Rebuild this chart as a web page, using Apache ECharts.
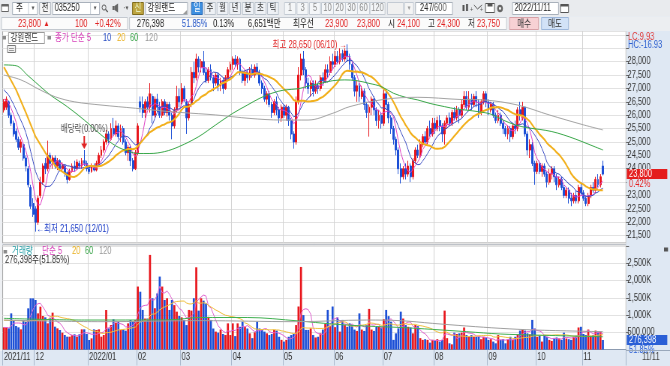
<!DOCTYPE html>
<html><head><meta charset="utf-8">
<script src="https://cdn.jsdelivr.net/npm/echarts@6/dist/echarts.min.js"></script>
<style>
html,body{margin:0;padding:0;overflow:hidden;background:#fff;width:670px;height:366px}
#wrap{width:670px;height:366px;overflow:hidden;position:relative}
#c{width:893px;height:366px;transform:scaleX(0.750280);transform-origin:0 0}
</style></head><body><div id="wrap"><div id="c"></div></div>
<script>
// ---------------- data ----------------
const holidays = ['2021-12-31','2022-01-31','2022-02-01','2022-02-02','2022-03-01','2022-03-09','2022-05-05','2022-06-01','2022-06-06','2022-08-15','2022-09-09','2022-09-12','2022-10-03','2022-10-10'];
// [open, close, low, high]
const ohlc = [
// 2021-11
[26200,26500,26100,26600],[26300,26600,26200,26700],[26500,26000,25900,26550],[26000,25700,25600,26100],[25700,25300,25200,25800],[25400,25100,25000,25500],[25100,24800,24700,25200],[24800,25000,24600,25100],[24900,24400,24300,25000],[24400,24100,23900,24500],[24000,23400,23300,24100],[23300,22600,22500,23400],[22700,22300,22200,22900],
// 2021-12
[22500,22000,21650,22600],[22000,22900,21900,23000],[23000,23500,22900,23700],[23500,24100,23400,24200],[24200,24000,23800,24400],[24000,24500,23900,25050],[24500,24200,24000,24600],[24200,24400,24000,24500],[24400,24100,24000,24500],[24100,24300,23950,24400],[24300,24000,23900,24350],[24000,24150,23900,24250],[24100,23850,23700,24150],[23850,23600,23450,23900],[23600,23900,23550,24000],[23900,24100,23850,24200],[24100,24000,23900,24300],[24000,24250,23950,24350],[24200,24100,24000,24300],[24100,24300,24000,24400],[24300,24200,24100,24700],[24200,24000,23900,24300],
// 2022-01
[24000,23900,23800,24100],[23900,24100,23850,24200],[24100,23950,23900,24200],[23950,24200,23900,24300],[24200,24500,24100,24600],[24500,24700,24400,24850],[24700,25000,24600,25100],[25000,25300,24900,25450],[25300,25100,24950,25400],[25100,25500,25050,25700],[25500,25300,25200,25900],[25300,25600,25200,25800],[25600,25200,25100,25700],[25200,25500,25000,25650],[25500,25000,24900,25600],[25000,24600,24500,25100],[24600,24800,24300,24900],[24800,24300,24100,24900],[24300,24000,23900,24400],[24000,24600,23950,24700],
// 2022-02
[24600,25600,24500,25700],[26500,26300,26100,26700],[26400,26100,25900,26700],[26100,26500,25900,26600],[26500,26300,26200,26700],[26300,26800,26100,27200],[26700,26000,25700,26800],[26000,26600,25900,26700],[26600,26300,26100,26800],[26300,26000,25900,26500],[26000,26500,25900,26600],[26500,26100,26000,26600],[26100,26400,25950,26500],[26400,26000,25800,26500],[26000,25600,25100,26100],[25600,26200,25500,26300],[26200,26700,26100,27100],[26700,26500,26300,27000],
// 2022-03
[26500,27000,26400,27200],[27000,26600,26500,27100],[26500,25900,25300,26600],[25900,26400,25800,26500],[26400,27600,26300,27800],[27600,27400,27200,28000],[27400,28100,27300,28300],[28100,27800,27600,28200],[27800,28000,27600,28100],[28000,27600,27500,28400],[27600,27300,27200,27800],[27300,27700,27200,27800],[27700,27400,27300,27900],[27400,27200,26900,27500],[27200,27500,27100,27600],[27500,27100,26900,27600],[27100,27300,26900,27400],[27300,27000,26800,27400],[27000,27400,26950,27500],[27400,27700,27300,27800],[27700,27900,27600,28000],
// 2022-04
[27900,28100,27700,28200],[28100,27900,27800,28250],[27900,28100,27700,28200],[28100,27600,27500,28150],[27600,27300,27200,27700],[27300,27600,27100,27700],[27600,27400,27200,27700],[27400,27700,27300,27800],[27700,27500,27400,27900],[27500,27800,27400,27900],[27800,27600,27500,27950],[27600,27200,27100,27700],[27200,27000,26800,27300],[27000,26600,26500,27100],[26600,26800,26400,26900],[26800,26400,26300,26900],[26400,26100,25900,26500],[26100,26500,26000,26600],[26500,26200,26000,26700],[26200,25900,25700,26300],[25900,26300,25750,26400],
// 2022-05
[26300,26000,25900,26400],[26000,26300,25800,26400],[26300,25800,25600,26350],[25800,25300,25100,25900],[25300,25000,24750,25400],[25000,26500,24900,26700],[26500,27500,26400,27800],[27500,28100,27300,28300],[28100,27700,27500,28400],[27700,27200,27000,27800],[27200,27000,26800,27400],[27000,27200,26700,27300],[27200,26900,26700,27300],[26900,27100,26800,27300],[27100,27000,26800,27200],[27000,27400,26900,27500],[27400,27300,27100,27600],[27300,27700,27200,27900],[27700,27600,27400,27900],[27600,28000,27500,28200],[28000,27900,27700,28300],
// 2022-06
[27900,28200,27800,28400],[28200,28000,27900,28400],[28000,28300,27900,28500],[28300,28100,28000,28450],[28100,28400,28000,28500],[28400,28200,28000,28650],[28200,27900,27700,28300],[27900,27400,27300,28000],[27400,26900,26700,27500],[26900,27100,26500,27300],[27100,26700,26500,27200],[26700,26900,26600,27100],[26900,26400,26200,27000],[26400,26100,25900,26500],[26100,26300,25200,26400],[26300,26600,26000,26700],[26600,26200,26000,26700],[26200,25800,25600,26300],[25800,26000,25500,26200],[26000,25700,25500,26100],
// 2022-07
[25700,26800,25600,27000],[26800,26400,26200,26900],[26400,25900,25700,26500],[25900,25500,25300,26000],[25500,25100,24900,25600],[25100,24700,24500,25200],[24700,24000,23800,24800],[24000,23700,23450,24200],[23700,24000,23600,24100],[24000,23800,23600,24200],[23800,24100,23700,24300],[24100,23700,23500,24200],[23700,24300,23600,24400],[24300,24700,24200,24800],[24700,24500,24400,24900],[24500,24900,24400,25100],[24900,25200,24800,25300],[25200,25000,24900,25400],[25000,25500,24900,25600],[25500,25300,25200,25800],[25300,25700,25200,25900],
// 2022-08
[25700,25500,25300,25900],[25500,25800,25400,25950],[25800,25600,25400,26000],[25600,25300,25000,25700],[25300,25700,24900,25800],[25700,25900,25500,26000],[25900,25700,25600,26100],[25700,26100,25600,26200],[26100,25900,25800,26300],[25900,26200,25800,26350],[26200,26000,25700,26300],[26000,26400,25900,26600],[26400,26700,26300,26900],[26700,26300,26200,26900],[26300,26600,26200,26900],[26600,26400,26200,26800],[26400,26700,26300,26800],[26700,26500,26300,26900],[26500,26100,25900,26600],[26100,26500,26000,26600],[26500,26800,26400,26900],[26800,26500,26300,26900],
// 2022-09
[26500,26200,26000,26600],[26200,26400,26100,26500],[26400,26000,25900,26500],[26000,25800,25700,26100],[25800,26000,25700,26200],[26000,25700,25600,26100],[25700,25500,25300,25800],[25500,25300,25200,25600],[25300,25500,25100,25600],[25500,25200,25000,25600],[25200,25600,25100,25700],[25600,25500,25300,25800],[25500,26200,25400,26300],[26200,26000,25800,26500],[25900,26300,25800,26500],[26300,25300,25200,26300],[25300,24700,24500,25400],[24700,24900,24400,25100],[24900,24200,24100,25000],[24200,23900,23400,24300],
// 2022-10
[23900,24200,23800,24300],[24200,23900,23800,24300],[23900,24100,23700,24200],[24100,23800,23700,24200],[23800,23500,23300,23900],[23500,23800,23400,24000],[23800,24000,23600,24100],[24000,23700,23500,24100],[23700,23400,23200,23800],[23400,23600,23300,23700],[23600,23300,23200,23700],[23300,23000,22900,23400],[23000,23200,22900,23300],[23200,22900,22700,23300],[22900,22800,22600,23100],[22800,23000,22700,23100],[23000,22800,22700,23200],[22800,23300,22700,23400],[23300,23100,23000,23500],
// 2022-11
[23100,22900,22800,23200],[22900,22700,22600,23000],[22700,23000,22600,23100],[23000,23300,22900,23400],[23300,23200,23100,23500],[23200,23600,23100,23700],[23600,23400,23300,23800],[23400,23700,23300,23800],[24100,23800,23750,24300]
];
const volumes = [
644000,644000,615000,1051000,857000,683000,644000,586000,857000,809000,
1197000,1487000,1487000,1439000,1051000,1245000,974000,935000,760000,906000,
1071000,664000,615000,567000,489000,421000,373000,373000,421000,441000,
373000,441000,586000,586000,450000,276000,324000,586000,567000,586000,
373000,421000,1148000,615000,712000,877000,780000,809000,567000,586000,
547000,760000,857000,809000,857000,1830000,1680000,1150000,900000,900000,
2750000,1490000,1200000,1630000,2120000,1830000,1440000,1490000,1150000,1440000,
1290000,1100000,975000,935000,860000,710000,1150000,1130000,1490000,2390000,
1130000,1490000,1420000,1340000,950000,860000,610000,520000,490000,580000,
450000,420000,760000,420000,760000,390000,760000,660000,810000,660000,
610000,470000,330000,500000,810000,610000,590000,520000,470000,420000,
450000,570000,550000,370000,280000,230000,280000,370000,420000,450000,
710000,1250000,2400000,1000000,570000,570000,615000,420000,350000,370000,
470000,580000,740000,1150000,680000,1250000,650000,930000,520000,860000,
710000,660000,760000,710000,580000,540000,1050000,580000,540000,710000,
1180000,580000,540000,660000,660000,640000,880000,1150000,970000,810000,
280000,470000,615000,1100000,900000,710000,660000,640000,470000,710000,
680000,330000,280000,300000,280000,200000,280000,260000,300000,230000,
280000,1130000,330000,180000,150000,490000,450000,470000,490000,640000,
420000,370000,420000,370000,370000,370000,300000,370000,350000,280000,
300000,230000,180000,420000,280000,300000,180000,280000,370000,280000,
370000,440000,550000,590000,550000,470000,440000,860000,610000,370000,
420000,230000,420000,370000,280000,250000,320000,350000,320000,280000,
490000,320000,300000,280000,370000,400000,640000,660000,450000,420000,
580000,400000,420000,550000,520000,520000,276398
];
// moving-average values visible before the first computable day
const ma5Head  = [26600, 26550, 26450, 26250];
const ma10Head = [26950, null, 26750, null, 26400, null, 26000, null, 25600];
const ma20Head = [27800, null, null, null, null, 26950, null, null, null, 26100, null, null, null, 25200, null, null, null, 24600, null];
// long moving averages as [dayIndex, value]
const ma60Points = [[0,27880],[5,27850],[10,27470],[13,27230],[19,26760],[26,26320],[33,25820],[40,25260],[46,24850],[51,24660],[55,24570],[60,24570],[66,24640],[72,24830],[80,25200],[87,25640],[94,26070],[100,26380],[105,26630],[110,26820],[115,26940],[121,26990],[125,27090],[130,27190],[135,27290],[140,27320],[145,27290],[150,27190],[155,27070],[160,26820],[165,26670],[170,26570],[175,26440],[181,26320],[186,26230],[190,26190],[195,26130],[200,26040],[205,25820],[210,25640],[215,25530],[220,25470],[225,25390],[230,25260],[235,25100],[240,24920],[246,24700]];
const ma120Points = [[0,27500],[7,27320],[15,26940],[21,26690],[29,26500],[40,26380],[54,26260],[65,26160],[73,26100],[87,26010],[101,25880],[114,25820],[125,25820],[135,26070],[142,26320],[156,26590],[170,26670],[187,26590],[197,26570],[211,26380],[224,26010],[238,25640],[246,25450]];
const volMa5Head  = [640000, 640000, 630000, 680000];
const volMa20Head = [850000, null, null, null, null, null, null, null, null, 830000, null, null, null, null, null, null, null, null, 860000];
const volMa60Points  = [[0,906000],[33,857000],[67,860000],[81,930000],[100,930000],[121,830000],[135,740000],[149,680000],[163,640000],[176,585000],[190,518000],[204,450000],[218,420000],[246,370000]];
const volMa120Points = [[0,857000],[40,809000],[81,838000],[120,809000],[149,857000],[163,838000],[176,760000],[190,683000],[204,615000],[218,567000],[246,518000]];
const highMark = {idx: 141, value: 28650, text: '최고 28,650 (06/10) →'};
const lowMark  = {idx: 13, value: 21650, text: '←최저 21,650 (12/01)'};
const divMark  = {idx: 33, value: 24700, text: '배당락(0.00%)'};
const lastClose = 23800, lastPct = '0.42%', lastVol = 276398, lastVolPct = '51.85%';

// ---------------- helpers ----------------
function tradingDays(start, end, hol) {
  const out = []; const d = new Date(start + 'T00:00:00Z'); const e = new Date(end + 'T00:00:00Z');
  while (d <= e) { const wd = d.getUTCDay(); const s = d.toISOString().slice(0, 10);
    if (wd !== 0 && wd !== 6 && hol.indexOf(s) < 0) out.push(s);
    d.setUTCDate(d.getUTCDate() + 1); }
  return out;
}
const dates = tradingDays('2021-11-12', '2022-11-11', holidays);
const PAD = 9;
const categories = dates.concat(Array.from({length: PAD}, (_, k) => 'pad' + k));
const isMonthStart = i => i < dates.length && (i === 0 || dates[i].slice(0, 7) !== dates[i - 1].slice(0, 7));
function sma(src, n, head) {
  return categories.map((_, i) => {
    if (i >= src.length) return null;
    if (i >= n - 1) { let s = 0; for (let k = i - n + 1; k <= i; k++) s += src[k]; return Math.round(s / n); }
    return head[i] == null ? null : head[i];
  });
}
function sparse(points) { const a = categories.map(() => null); points.forEach(p => { a[p[0]] = p[1]; }); return a; }
const fmt = v => v.toLocaleString('en-US');
const closes = ohlc.map(r => r[1]);

const SX = 670 / 893;
const X = v => v / SX;
const FF = "'Liberation Sans','Noto Sans CJK KR',sans-serif";
const UP = '#e8161c', DN = '#1c4fd6';
const PANEL = '#dfe8f3';

// ---------------- UI chrome (header, legends, panel texts) ----------------
const G = [];
const R = (x, y, w, h, fill, stroke) => G.push({type: 'rect', z: 100, silent: true, shape: {x: X(x), y: y, width: w / SX, height: h}, style: {fill: fill || 'none', stroke: stroke || null, lineWidth: 1}});
const T = (x, y, s, color, o) => { o = o || {}; G.push({type: 'text', z: 102, silent: true, x: X(x), y: y, style: {text: s, fill: color, fontSize: o.fs || 10, fontFamily: FF, align: o.al || 'left', verticalAlign: 'middle'}}); };
const Ln = (pts, color, w) => G.push({type: 'polyline', z: 101, silent: true, shape: {points: pts.map(p => [X(p[0]), p[1]])}, style: {stroke: color, lineWidth: w || 1, fill: null}});
const Pg = (pts, fill) => G.push({type: 'polygon', z: 101, silent: true, shape: {points: pts.map(p => [X(p[0]), p[1]])}, style: {fill: fill}});
const Ci = (cx, cy, r, fill, stroke) => G.push({type: 'circle', z: 101, silent: true, shape: {cx: X(cx), cy: cy, r: r}, style: {fill: fill || 'none', stroke: stroke || null}});

// row 1
R(0, 0, 670, 16.5, '#e9ebee', null);
R(1.5, 4.5, 7, 7, '#fff', '#666'); R(1.5, 4.5, 7, 2, '#666');
R(12.5, 2.5, 25, 12, '#fff', '#a9b1bb'); T(16, 8.5, '주', '#222'); Ln([[28.5, 3], [28.5, 14]], '#c5ccd4'); T(33, 8.5, '▼', '#555', {fs: 6, al: 'center'});
R(39.5, 2.5, 11, 12, '#f6f6f6', '#a9b1bb'); T(45, 8.5, '전', '#222', {al: 'center'});
R(52.5, 2.5, 47, 12, '#fff', '#a9b1bb'); T(54.5, 8.5, '035250', '#222'); Ln([[90.5, 3], [90.5, 14]], '#c5ccd4'); T(95, 8.5, '▼', '#555', {fs: 6, al: 'center'});
Ci(104, 7.5, 2.6, 'none', '#555'); Ln([[105.6, 9.5], [107.8, 12]], '#555', 1.5);
R(112.5, 6, 2, 4, '#666'); Pg([[114.5, 6], [118, 3.5], [118, 12.5], [114.5, 10]], '#666'); T(123, 8.5, '·', '#666'); T(127, 8.5, '▼', '#555', {fs: 6, al: 'center'});
R(132.5, 2.5, 11, 12, '#bda43f', '#7d6a1c'); T(138, 8.5, '신', '#f2ffd6', {al: 'center'});
R(145.5, 2.5, 42, 12, '#fff', '#a9b1bb'); T(147.5, 8.5, '강원랜드', '#222'); Pg([[187, 10], [187, 14], [183, 14]], '#999');
R(191.5, 2.5, 11, 12, '#3d8fe0', '#2a6cb8'); T(197, 8.5, '일', '#fff', {al: 'center'});
[['주', 210], ['월', 222.5], ['년', 235], ['분', 248], ['초', 260.5], ['틱', 273]].forEach(b => { R(b[1] - 5.5, 2.5, 11, 12, '#eef1f5', '#b9c2cc'); T(b[1], 8.5, b[0], '#333', {al: 'center'}); });
[['1', 290, 11], ['3', 302.5, 11], ['5', 315, 11], ['10', 327.5, 12], ['20', 339.5, 12], ['30', 351.5, 12], ['60', 363.5, 12], ['120', 377.5, 15]].forEach(b => { R(b[1] - b[2] / 2, 2.5, b[2], 12, '#f4f6f8', '#c3cad3'); T(b[1], 8.5, b[0], '#8a8a8a', {al: 'center'}); });
R(387.5, 2.5, 16, 12, '#f0f0f0', '#c3cad3'); R(404.5, 2.5, 9, 12, '#f4f4f4', '#c3cad3'); T(409, 8.5, '▼', '#999', {fs: 6, al: 'center'});
R(415.5, 2.5, 37, 12, '#fff', '#a9b1bb'); T(420, 8.5, '247', '#222'); T(432, 8.5, '/600', '#555');
R(462.5, 5, 2, 6, '#555'); R(466, 4, 2, 7, '#555'); T(470, 10, '+', '#555', {fs: 7});
Ln([[474, 5], [477.5, 9], [482, 5]], '#555'); T(480, 10.5, '+', '#555', {fs: 7});
R(485.5, 3.5, 9, 9, '#fff', '#555'); R(487.5, 3.5, 5, 3, '#555');
Ci(500, 8.5, 3.8, '#666'); Ci(500, 8.5, 1.4, '#fff');
R(512.5, 2.5, 46, 12, '#fff', '#a9b1bb'); T(514.5, 8.5, '2022/11/11', '#222');
R(560.5, 4.5, 8, 8, '#fff', '#555'); R(560.5, 4.5, 8, 2, '#555');
// row 2
R(0, 16.5, 670, 14.5, '#eceef1', null);
R(1.5, 17.5, 126, 12, '#fbfbfb', '#c3c8cf'); R(129.5, 17.5, 377, 12, '#fbfbfb', '#c3c8cf');
T(18, 24, '23,800', '#e02020'); T(43.5, 24, '▲', '#e02020', {fs: 8});
T(75, 24, '100', '#e02020'); T(95, 24, '+0.42%', '#e02020');
T(137, 24, '276,398', '#222'); T(182, 24, '51.85%', '#2456c8'); T(213, 24, '0.13%', '#222');
T(248, 24, '6,651백만', '#222'); T(293, 24, '최우선', '#222'); T(325, 24, '23,900', '#e02020'); T(357, 24, '23,800', '#e02020');
T(388, 24, '시', '#222'); T(397, 24, '24,100', '#e02020'); T(428, 24, '고', '#222'); T(437, 24, '24,300', '#e02020'); T(468, 24, '저', '#222'); T(477, 24, '23,750', '#e02020');
R(509.5, 17.5, 29, 12, '#f7d1d4', '#d6a0a6'); T(524, 24, '매수', '#333', {al: 'center'});
R(541.5, 17.5, 27, 12, '#d2e2f7', '#9cb6da'); T(555, 24, '매도', '#333', {al: 'center'});
// left border strip
R(0, 31, 2.3, 320, '#eef0f3', null);
// price pane legend
R(2.5, 36, 3.5, 3.5, '#8a8a8a'); R(8.5, 32.5, 36, 11, '#fff', '#9a9a9a'); T(10.5, 38, '강원랜드', '#333');
R(47.5, 36, 3.5, 3.5, '#8a8a8a');
T(55, 38, '종가 단순 5', '#d63fb8'); T(103, 38, '10', '#2b4fc4'); T(117, 38, '20', '#e9b01e'); T(130, 38, '60', '#36a346'); T(145, 38, '120', '#9a9a9a');
R(7.5, 45.5, 8, 7, '#f2f2f2', '#777'); Ln([[9, 48.5], [14, 48.5]], '#999'); Ln([[9, 50.5], [14, 50.5]], '#999');
// volume pane legend
R(3.5, 250, 3.5, 3.5, '#8a8a8a'); T(12, 251.5, '거래량', '#27a0a8'); T(42, 251.5, '단순 5', '#d63fb8'); T(72, 251.5, '20', '#e9b01e'); T(85, 251.5, '60', '#36a346'); T(99, 251.5, '120', '#9a9a9a');
T(5, 260.5, '276,398주(51.85%)', '#333');
// right panel
T(628, 37, 'LC:9.93', '#e03a3a'); T(628, 45.5, 'HC:-16.93', '#2c5fd0');
R(664, 247.5, 4, 4, '#555');
Ln([[626, 350.5], [670, 350.5]], '#9aa8bb');
T(642, 357.5, '11/11', '#444');

// ---------------- series ----------------
const lineS = (data, color, w, smooth, xi) => ({type: 'line', xAxisIndex: xi || 0, yAxisIndex: xi || 0, data: data, showSymbol: false, symbol: 'none', connectNulls: true, smooth: smooth ? 0.35 : false, lineStyle: {color: color, width: w}, itemStyle: {color: color}, silent: true, z: 3});
const volData = volumes.map((v, i) => {
  const r = ohlc[i]; const up = r[1] > r[0] || (r[1] === r[0] && (i === 0 || r[1] >= ohlc[i - 1][1]));
  return {value: v, itemStyle: {color: up ? UP : DN}};
});
const boxLabel = (main, sub, bg, fg) => ({
  show: true, position: 'end', distance: 1, color: fg,
  formatter: '{e| }\n{a|' + main + '}\n{b|' + sub + '}',
  rich: {e: {fontSize: 10, lineHeight: 10, fontFamily: FF},
         a: {fontSize: 10, lineHeight: 10, height: 10, width: 51, padding: [0, 0, 0, 3], backgroundColor: bg, color: '#fff', fontFamily: FF},
         b: {fontSize: 10, lineHeight: 10, height: 10, width: 51, padding: [0, 0, 0, 3], backgroundColor: PANEL, color: fg, fontFamily: FF}}
});

const xBase = {type: 'category', data: categories, boundaryGap: true};
const option = {
  animation: false,
  backgroundColor: PANEL,
  textStyle: {fontFamily: FF},
  grid: [
    {left: X(2.67), right: 893 - X(626), top: 31, height: 212, show: true, backgroundColor: '#fff', borderColor: '#9c9c9c', borderWidth: 1},
    {left: X(2.67), right: 893 - X(626), top: 245, height: 104.5, show: true, backgroundColor: '#fff', borderColor: '#9c9c9c', borderWidth: 1}
  ],
  xAxis: [
    Object.assign({}, xBase, {gridIndex: 0, axisLine: {show: false}, axisTick: {show: false}, axisLabel: {show: false},
      splitLine: {show: true, interval: i => i > 0 && isMonthStart(i), lineStyle: {color: '#d4d4d4'}}}),
    Object.assign({}, xBase, {gridIndex: 1, axisLine: {show: true, lineStyle: {color: '#8c9bb0'}},
      axisTick: {show: true, interval: i => isMonthStart(i), length: 16, lineStyle: {color: '#aab8cc'}},
      axisLabel: {show: true, interval: i => isMonthStart(i), align: 'left', margin: 3, fontSize: 10, color: '#333',
        formatter: (v, i) => { if (i === 0) return v.slice(0, 4) + '/' + v.slice(5, 7); const m = v.slice(5, 7); return m === '01' ? v.slice(0, 4) + '/' + m : m; }},
      splitLine: {show: true, interval: i => i > 0 && isMonthStart(i), lineStyle: {color: '#d4d4d4'}}})
  ],
  yAxis: [
    {type: 'value', gridIndex: 0, position: 'right', min: 21225, max: 29147, splitNumber: 16,
      axisLine: {show: false}, axisTick: {show: true, length: 4, lineStyle: {color: '#666'}},
      axisLabel: {margin: 2, fontSize: 10, color: '#333', showMinLabel: false, showMaxLabel: false,
        formatter: v => (v % 500 === 0 && v <= 28000) ? fmt(v) : ''},
      splitLine: {show: true, lineStyle: {color: '#e2e2e2'}}},
    {type: 'value', gridIndex: 1, position: 'right', min: 0, max: 3038000, splitNumber: 6,
      axisLine: {show: false}, axisTick: {show: true, length: 4, lineStyle: {color: '#666'}},
      axisLabel: {margin: 2, fontSize: 10, color: '#333', showMinLabel: false, showMaxLabel: false,
        formatter: v => v === 500000 ? '500,000' : ((v > 0 && v < 3000000 && v % 500000 === 0) ? fmt(v / 1000) + 'K' : '')},
      splitLine: {show: true, lineStyle: {color: '#e2e2e2'}}}
  ],
  series: [
    {type: 'candlestick', xAxisIndex: 0, yAxisIndex: 0, data: ohlc, barWidth: 2.4, z: 2,
      itemStyle: {color: UP, color0: DN, borderColor: UP, borderColor0: DN, borderWidth: 1},
      markPoint: {silent: true, animation: false, data: [
        {coord: [categories[highMark.idx], highMark.value], symbol: 'circle', symbolSize: 1, itemStyle: {color: 'rgba(0,0,0,0)'},
          label: {show: true, position: 'left', distance: 0, offset: [0, 1], formatter: highMark.text, color: '#e02424', fontSize: 10}},
        {coord: [categories[lowMark.idx], lowMark.value], symbol: 'circle', symbolSize: 1, itemStyle: {color: 'rgba(0,0,0,0)'},
          label: {show: true, position: 'right', distance: 1, offset: [0, -2], formatter: lowMark.text, color: '#1f3fc8', fontSize: 10}},
        {coord: [categories[divMark.idx], divMark.value], symbol: 'path://M3,0L5,0L5,7L8,7L4,12L0,7L3,7Z', symbolSize: [8, 13], symbolKeepAspect: false, symbolOffset: [0, '-58%'],
          itemStyle: {color: '#e02424'}, label: {show: true, position: 'top', distance: 2, formatter: divMark.text, color: '#555', fontSize: 10}}
      ]},
      markLine: {silent: true, animation: false, symbol: ['none', 'none'], lineStyle: {color: 'rgba(0,0,0,0)', width: 0},
        label: boxLabel(fmt(lastClose), lastPct, '#e41e1e', '#e41e1e'), data: [{yAxis: lastClose}]}},
    lineS(sma(closes, 5, ma5Head), '#e043c6', 1),
    lineS(sma(closes, 10, ma10Head), '#3a4cc4', 1),
    lineS(sma(closes, 20, ma20Head), '#f2b01c', 2),
    lineS(sparse(ma60Points), '#3aa84a', 1, true),
    lineS(sparse(ma120Points), '#a4a4a4', 1, true),
    {type: 'bar', xAxisIndex: 1, yAxisIndex: 1, data: volData, barWidth: 2.7, z: 2,
      markLine: {silent: true, animation: false, symbol: ['none', 'none'], lineStyle: {color: 'rgba(0,0,0,0)', width: 0},
        label: boxLabel(fmt(lastVol), lastVolPct, '#2a5fd6', '#2a5fd6'), data: [{yAxis: lastVol}]}},
    lineS(sma(volumes, 5, volMa5Head), '#e060d0', 1, false, 1),
    lineS(sma(volumes, 20, volMa20Head), '#f0c040', 1, false, 1),
    lineS(sparse(volMa60Points), '#40b050', 1, true, 1),
    lineS(sparse(volMa120Points), '#a0a0a0', 1, true, 1)
  ],
  graphic: {elements: G}
};
const chart = echarts.init(document.getElementById('c'), null, {renderer: 'canvas', width: 893, height: 366});
chart.setOption(option);
</script></body></html>
